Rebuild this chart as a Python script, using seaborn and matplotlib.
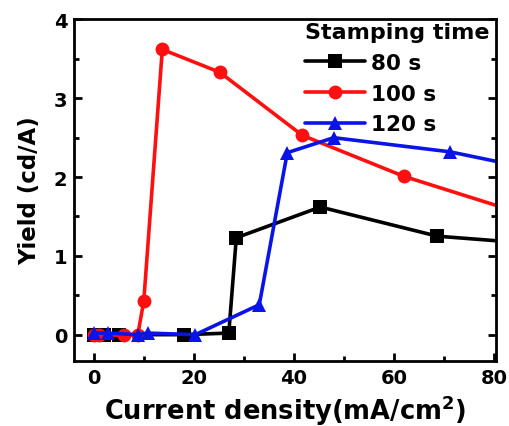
import matplotlib
matplotlib.use("Agg")
import matplotlib.pyplot as plt
import seaborn as sns
import pandas as pd
from matplotlib.ticker import MultipleLocator

sns.set_theme(style="ticks")
plt.rcParams['font.family'] = ['DejaVu Sans']
plt.rcParams['font.weight'] = 'bold'
plt.rcParams['mathtext.default'] = 'bf'
plt.rcParams['text.color'] = 'black'
plt.rcParams['axes.labelcolor'] = 'black'
plt.rcParams['xtick.color'] = 'black'
plt.rcParams['ytick.color'] = 'black'

# data
x_80 = [0, 2, 5, 18, 27, 28.5, 45.3, 68.7, 85]
y_80 = [0, 0, 0, 0, 0.02, 1.23, 1.62, 1.25, 1.17]
x_100 = [0, 1, 6, 8.8, 10, 13.7, 25.2, 41.7, 62, 85]
y_100 = [0, 0, -0.01, 0, 0.43, 3.62, 3.33, 2.53, 2.01, 1.55]
x_120 = [0, 2.8, 8.8, 10.8, 20.3, 33.1, 38.7, 48, 71.3, 85]
y_120 = [0.02, 0.02, 0.0, 0.02, 0.0, 0.38, 2.31, 2.5, 2.32, 2.14]
labels = ['80 s', '100 s', '120 s']
colors = ['#000000', '#ff1010', '#0a14e6']

df = pd.concat([
    pd.DataFrame({'x': x_80, 'y': y_80, 'series': labels[0]}),
    pd.DataFrame({'x': x_100, 'y': y_100, 'series': labels[1]}),
    pd.DataFrame({'x': x_120, 'y': y_120, 'series': labels[2]}),
], ignore_index=True)

fig = plt.figure(figsize=(5.09, 4.27), dpi=100)
ax = fig.add_axes([0.146, 0.153, 0.828, 0.799])

sns.lineplot(data=df, x='x', y='y', hue='series', style='series',
             hue_order=labels, style_order=labels,
             palette=dict(zip(labels, colors)),
             markers={'80 s': 's', '100 s': 'o', '120 s': '^'},
             dashes=False, estimator=None, sort=False,
             linewidth=2.6, markersize=10, markeredgewidth=0,
             ax=ax, legend=True)

ax.set_xlim(-3.9, 80.4)
ax.set_ylim(-0.33, 4.0)
ax.xaxis.set_major_locator(MultipleLocator(20))
ax.xaxis.set_minor_locator(MultipleLocator(10))
ax.yaxis.set_major_locator(MultipleLocator(1))
ax.yaxis.set_minor_locator(MultipleLocator(0.5))
ax.tick_params(which='both', direction='in', top=False, right=True,
               labelsize=14, width=2, pad=5, colors='black')
ax.tick_params(which='major', length=6)
ax.tick_params(which='minor', length=3.5)
for lab in ax.get_xticklabels() + ax.get_yticklabels():
    lab.set_fontweight('bold')
for s in ax.spines.values():
    s.set_linewidth(2)
    s.set_color('black')

ax.set_xlabel('Current density(mA/cm$^\\mathbf{2}$)', fontsize=18.5, fontweight='bold', labelpad=4)
ax.set_ylabel('Yield (cd/A)', fontsize=16.5, fontweight='bold', labelpad=9)

handles, labs = ax.get_legend_handles_labels()
leg = ax.legend(handles, labs, title='Stamping time', loc='upper right',
                bbox_to_anchor=(1.015, 1.03), frameon=False,
                fontsize=15.5, title_fontsize=16, handlelength=2.8,
                labelspacing=0.5, handletextpad=0.3, borderaxespad=0.2)
leg.get_title().set_fontweight('bold')
leg._legend_box.align = 'left'
for t in leg.get_texts():
    t.set_fontweight('bold')
    t.set_color('black')
leg.get_title().set_color('black')

fig.savefig('out.png', dpi=100)
